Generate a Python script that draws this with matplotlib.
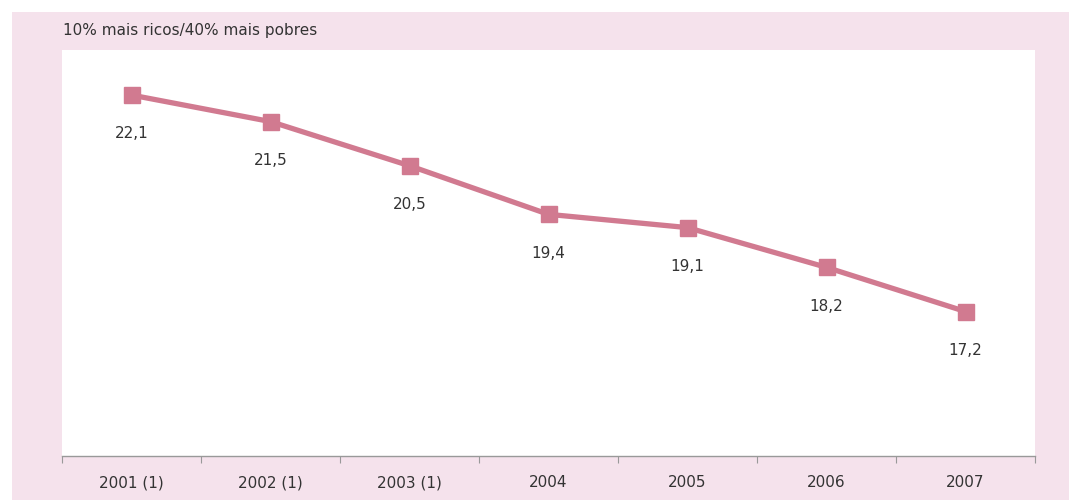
import matplotlib
matplotlib.use("Agg")
import matplotlib.pyplot as plt
from matplotlib.patches import Rectangle
import numpy as np

# data
years = ["2001 (1)", "2002 (1)", "2003 (1)", "2004", "2005", "2006", "2007"]
ratio = [22.1, 21.5, 20.5, 19.4, 19.1, 18.2, 17.2]
value_labels = ["22,1", "21,5", "20,5", "19,4", "19,1", "18,2", "17,2"]

PINK_BG = "#f5e2ec"
LINE = "#d17a90"
TXT = "#333333"

W, H = 1069, 500
fig = plt.figure(figsize=(W / 100, H / 100), dpi=100)
fig.patch.set_facecolor("white")
fig.patches.append(Rectangle((12 / W, 0), 1 - 12 / W, 1 - 12 / H,
                             transform=fig.transFigure, facecolor=PINK_BG,
                             edgecolor="none", zorder=-10))

ax = fig.add_axes([62 / W, 1 - 456 / H, (1035 - 62) / W, (456 - 50) / H])
ax.set_facecolor("white")

x = np.arange(len(years))
ax.plot(x, ratio, color=LINE, lw=3.8, marker="s", ms=11, mfc=LINE, mec=LINE,
        solid_capstyle="butt", zorder=3)
for xi, yi, lab in zip(x, ratio, value_labels):
    ax.annotate(lab, (xi, yi), xytext=(0, -28), textcoords="offset points",
                ha="center", va="center", fontsize=11, color=TXT)

ax.set_xlim(-0.5, len(years) - 0.5)
ax.set_ylim(13.93, 23.12)

for s in ["top", "right", "left"]:
    ax.spines[s].set_visible(False)
ax.spines["bottom"].set_color("#999999")
ax.spines["bottom"].set_linewidth(1.0)
ax.set_yticks([])

ax.set_xticks(np.arange(-0.5, len(years), 1.0))
ax.set_xticklabels([])
ax.set_xticks(x, minor=True)
ax.set_xticklabels(years, minor=True, fontsize=11, color=TXT)
ax.tick_params(axis="x", which="major", length=5, color="#999999", direction="out")
ax.tick_params(axis="x", which="minor", length=0, pad=14)

fig.text(63 / W, 1 - 30 / H, "10% mais ricos/40% mais pobres", fontsize=11,
         color=TXT, ha="left", va="center")

fig.savefig("out.png", dpi=100, facecolor=fig.get_facecolor())
